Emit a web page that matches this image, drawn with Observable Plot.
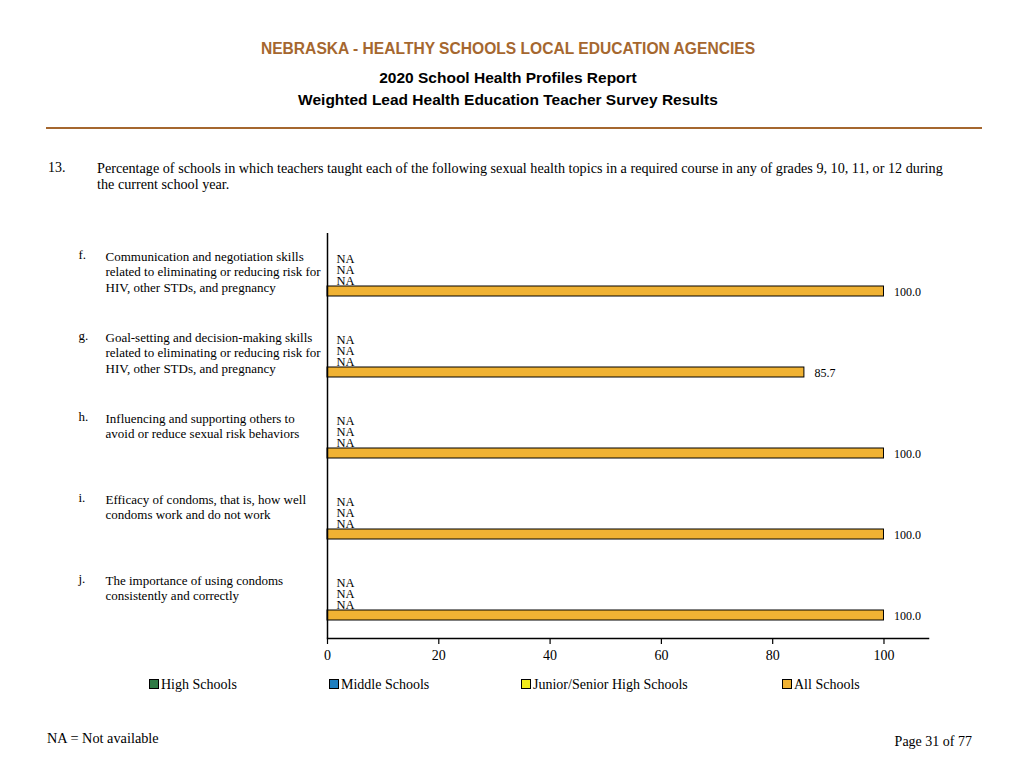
<!DOCTYPE html>
<html><head><meta charset="utf-8">
<script src="https://cdn.jsdelivr.net/npm/d3@7"></script>
<script src="https://cdn.jsdelivr.net/npm/@observablehq/plot@0.6"></script>
<style>
body{margin:0;background:#fff;width:1024px;height:768px;position:relative;overflow:hidden;font-family:"Liberation Serif",serif;color:#000;}
#chart{position:absolute;left:0;top:0;}
.hd{position:absolute;left:0;width:1016px;text-align:center;font-family:"Liberation Sans",Arial,sans-serif;font-weight:bold;z-index:2;}
#t1{top:40px;font-size:15.6px;color:#a5672f;}
#t2{top:69px;font-size:15.5px;}
#t3{top:91px;font-size:15.5px;}
#rule{position:absolute;left:46px;top:127px;width:936px;height:2px;background:#a5672f;}
#qn{position:absolute;left:48px;top:160px;font-size:14px;}
#qt{position:absolute;left:97px;top:160px;font-size:14.2px;line-height:16px;white-space:nowrap;}
#legend{position:absolute;top:677px;left:0;width:1024px;height:20px;font-size:14px;}
.li{position:absolute;top:0;white-space:nowrap;}
.sw{display:inline-block;width:8px;height:8px;border:1px solid #000;margin-right:2px;vertical-align:0px;}
#na{position:absolute;left:47px;top:730px;font-size:14.3px;}
#pg{position:absolute;right:52px;top:734px;font-size:14px;}
</style></head><body>
<div class="hd" id="t1">NEBRASKA - HEALTHY SCHOOLS LOCAL EDUCATION AGENCIES</div>
<div class="hd" id="t2">2020 School Health Profiles Report</div>
<div class="hd" id="t3">Weighted Lead Health Education Teacher Survey Results</div>
<div id="rule"></div>
<div id="qn">13.</div>
<div id="qt">Percentage of schools in which teachers taught each of the following sexual health topics in a required course in any of grades 9, 10, 11, or 12 during<br>the current school year.</div>
<div id="chart"></div>
<div id="legend"></div>
<div id="na">NA = Not available</div>
<div id="pg">Page 31 of 77</div>
<script>
const letters = ["f.", "g.", "h.", "i.", "j."];
const topics = [
  "Communication and negotiation skills\nrelated to eliminating or reducing risk for\nHIV, other STDs, and pregnancy",
  "Goal-setting and decision-making skills\nrelated to eliminating or reducing risk for\nHIV, other STDs, and pregnancy",
  "Influencing and supporting others to\navoid or reduce sexual risk behaviors",
  "Efficacy of condoms, that is, how well\ncondoms work and do not work",
  "The importance of using condoms\nconsistently and correctly"
];
const series = ["High Schools", "Middle Schools", "Junior/Senior High Schools", "All Schools"];
const highSchools = [null, null, null, null, null];
const middleSchools = [null, null, null, null, null];
const juniorSenior = [null, null, null, null, null];
const allSchools = [100.0, 85.7, 100.0, 100.0, 100.0];
const colors = ["#2f7a45", "#1f7fc0", "#f2ec1c", "#f0b233"];
const xTicks = [0, 20, 40, 60, 80, 100];

const seriesValues = [highSchools, middleSchools, juniorSenior, allSchools];
const rows = [];
letters.forEach((l, i) => seriesValues.forEach((arr, j) => rows.push({item: l, series: series[j], value: arr[i]})));
const items = letters.map((l, i) => ({item: l, label: topics[i]}));
const present = rows.filter(d => d.value != null);
const missing = rows.filter(d => d.value == null);

const mTop = 232;
const chart = Plot.plot({
  width: 1024, height: 680,
  marginTop: mTop, marginBottom: 42, marginLeft: 327, marginRight: 96,
  style: {fontFamily: "Liberation Serif, serif", fontSize: "13px", color: "#000", background: "transparent", overflow: "visible"},
  fy: {domain: letters, padding: 0, axis: null},
  y: {domain: series, range: [mTop + 18, mTop + 66], padding: 0.08, axis: null},
  x: {domain: [0, 108]},
  color: {domain: series, range: colors},
  marks: [
    Plot.barX(present, {x: "value", y: "series", fy: "item", fill: "series", stroke: "#000", strokeWidth: 1}),
    Plot.ruleX([0], {stroke: "#000", strokeWidth: 1.5}),
    Plot.frame({anchor: "bottom", facetAnchor: "bottom", stroke: "#000", strokeWidth: 1.5}),
    Plot.axisX(xTicks, {anchor: "bottom", tickSize: 6, tickPadding: 6, fontSize: 14, label: null, stroke: "#000", strokeWidth: 1.2}),
    Plot.text(missing, {x: 0, y: "series", fy: "item", text: () => "NA", textAnchor: "start", dx: 9, fontSize: 12.5}),
    Plot.text(present, {x: "value", y: "series", fy: "item", text: d => d.value.toFixed(1), textAnchor: "start", dx: 10, dy: 1, fontSize: 12}),
    Plot.text(items, {fy: "item", text: "item", frameAnchor: "top-left", dx: -249, dy: 16, lineAnchor: "top", textAnchor: "start"}),
    Plot.text(items, {fy: "item", text: "label", frameAnchor: "top-left", dx: -222, dy: 16, lineAnchor: "top", textAnchor: "start", lineHeight: 1.2})
  ]
});
document.getElementById("chart").appendChild(chart);

const legendX = [149, 329, 521, 782];
const legend = document.getElementById("legend");
series.forEach((s, i) => {
  const el = document.createElement("span");
  el.className = "li";
  el.style.left = legendX[i] + "px";
  el.innerHTML = `<span class="sw" style="background:${colors[i]}"></span>${s}`;
  legend.appendChild(el);
});
</script>
</body></html>
